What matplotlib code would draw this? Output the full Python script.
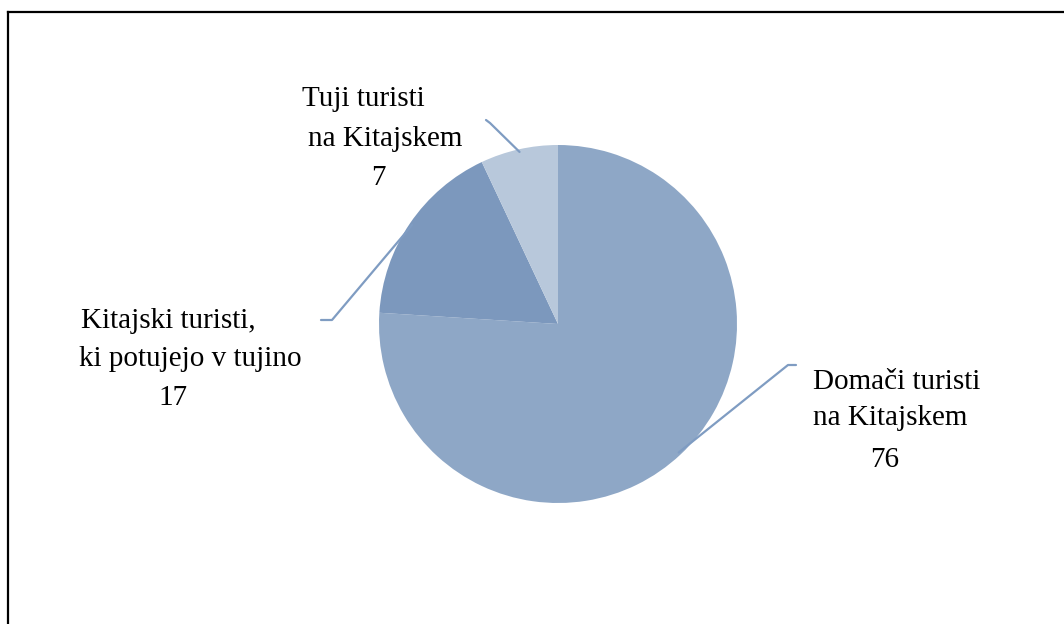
import numpy as np
import matplotlib
matplotlib.use("Agg")
import matplotlib.pyplot as plt
from matplotlib.lines import Line2D

# Struktura turističnih potovanj (v %)
labels = ["Domači turisti\nna Kitajskem", "Kitajski turisti,\nki potujejo v tujino", "Tuji turisti\nna Kitajskem"]
values = [76, 17, 7]
colors = ["#8EA7C6", "#7C98BD", "#B8C8DB"]

W, H = 1064, 624
CX, CY, R = 558, H - 324, 179

plt.rcParams["font.family"] = ["Liberation Serif", "DejaVu Serif"]

fig = plt.figure(figsize=(W / 100, H / 100), dpi=100)
ax = fig.add_axes([0, 0, 1, 1])

wedges, _ = ax.pie(values, colors=colors, startangle=90, counterclock=False,
                   center=(CX, CY), radius=R, frame=True,
                   wedgeprops=dict(linewidth=0))
ax.set_xlim(0, W)
ax.set_ylim(0, H)
ax.set_aspect("equal")
ax.axis("off")

# okvir (zgoraj in levo)
fig.add_artist(Line2D([8 / W, 1], [1 - 12 / H, 1 - 12 / H], color="black", lw=1.6,
                      transform=fig.transFigure))
fig.add_artist(Line2D([8 / W, 8 / W], [1 - 12 / H, 0], color="black", lw=1.6,
                      transform=fig.transFigure))

# povezovalne črte od sredine izseka do oznake
leader_ends = [[(788, 365), (796, 365)], [(332, 320), (321, 320)], [(490, 123), (486, 120)]]
line_col = "#7F9CC2"
for w, ends in zip(wedges, leader_ends):
    mid = np.deg2rad((w.theta1 + w.theta2) / 2)
    sx = CX + 0.985 * R * np.cos(mid)
    sy = CY + 0.985 * R * np.sin(mid)
    xs = [sx] + [p[0] for p in ends]
    ys = [sy] + [H - p[1] for p in ends]
    ax.plot(xs, ys, color=line_col, lw=1.6, solid_capstyle="round",
            solid_joinstyle="round")

fs = 21
label_lines = [
    [("Domači turisti", 897, 382), ("na Kitajskem", 890, 418), (str(values[0]), 885, 460)],
    [("Kitajski turisti,", 168, 321), ("ki potujejo v tujino", 190, 359), (str(values[1]), 173, 398)],
    [("Tuji turisti", 363, 99), ("na Kitajskem", 385, 139), (str(values[2]), 378, 178)],
]
for lines in label_lines:
    for txt, x, y in lines:
        ax.text(x, H - y, txt, ha="center", va="center", fontsize=fs, color="black")

fig.savefig("out.png", dpi=100)
